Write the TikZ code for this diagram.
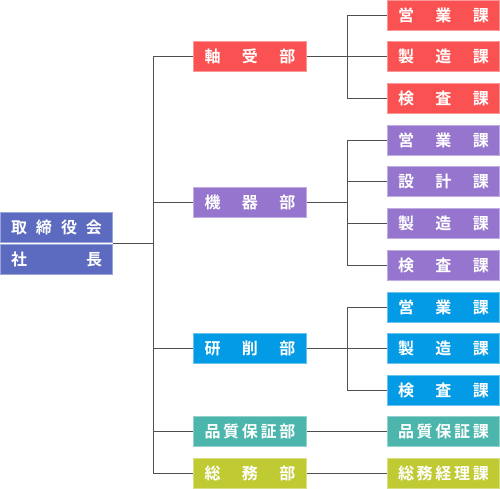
\documentclass[tikz,border=0pt]{standalone}
\usepackage{fontspec}
\newfontfamily\jp{Noto Sans CJK JP}[BoldFont={Noto Sans CJK JP Bold}]
\definecolor{cRed}{HTML}{FA5252}
\definecolor{cPur}{HTML}{9575CD}
\definecolor{cBlu}{HTML}{039BE5}
\definecolor{cTea}{HTML}{4DB6AC}
\definecolor{cLim}{HTML}{C0CA33}
\definecolor{cInd}{HTML}{5C6BC0}
\definecolor{lineC}{HTML}{505050}
\newcommand{\sprd}[1]{\makebox[91pt]{#1}}
\tikzset{
  box/.style={rectangle, inner sep=0pt, minimum width=112.5pt, minimum height=30pt,
    fill=#1, draw=#1!60!white, line width=0.8pt, text=white,
    font=\jp\bfseries\fontsize{16pt}{16pt}\selectfont},
  conn/.style={draw=lineC, line width=0.9pt}
}
\begin{document}
\begin{tikzpicture}[x=1pt,y=-1pt]
\useasboundingbox (0,0) rectangle (500,489);
% president
\node[box=cInd] (ceoA) at (56.5,227.5) {\sprd{取\hfill 締\hfill 役\hfill 会}};
\node[box=cInd] (ceoB) at (56.5,259.5) {\sprd{社\hfill 長}};
\coordinate (ceoR) at (113,243.5);
\coordinate (tr) at (153,0);
\coordinate (br) at (347,0);
% departments
\node[box=cRed] (d1) at (250,56.5) {\sprd{軸\hfill 受\hfill 部}};
\node[box=cPur] (d2) at (250,202.5) {\sprd{機\hfill 器\hfill 部}};
\node[box=cBlu] (d3) at (250,348) {\sprd{研\hfill 削\hfill 部}};
\node[box=cTea] (d4) at (250,431.5) {\sprd{品\hfill 質\hfill 保\hfill 証\hfill 部}};
\node[box=cLim] (d5) at (250,473.5) {\sprd{総\hfill 務\hfill 部}};
% sections
\node[box=cRed] (s11) at (443.5,15) {\sprd{営\hfill 業\hfill 課}};
\node[box=cRed] (s12) at (443.5,56.5) {\sprd{製\hfill 造\hfill 課}};
\node[box=cRed] (s13) at (443.5,98.5) {\sprd{検\hfill 査\hfill 課}};
\node[box=cPur] (s21) at (443.5,140) {\sprd{営\hfill 業\hfill 課}};
\node[box=cPur] (s22) at (443.5,181.5) {\sprd{設\hfill 計\hfill 課}};
\node[box=cPur] (s23) at (443.5,223.5) {\sprd{製\hfill 造\hfill 課}};
\node[box=cPur] (s24) at (443.5,265) {\sprd{検\hfill 査\hfill 課}};
\node[box=cBlu] (s31) at (443.5,307) {\sprd{営\hfill 業\hfill 課}};
\node[box=cBlu] (s32) at (443.5,348.5) {\sprd{製\hfill 造\hfill 課}};
\node[box=cBlu] (s33) at (443.5,390.5) {\sprd{検\hfill 査\hfill 課}};
\node[box=cTea] (s41) at (443.5,431.5) {\sprd{品\hfill 質\hfill 保\hfill 証\hfill 課}};
\node[box=cLim] (s51) at (443.5,473.5) {\sprd{総\hfill 務\hfill 経\hfill 理\hfill 課}};
% trunk
\draw[conn] (ceoR) -- (ceoR -| tr);
\draw[conn] (d1.west) -- (d1.west -| tr) -- (d5.west -| tr) -- (d5.west);
\draw[conn] (d2.west) -- (d2.west -| tr);
\draw[conn] (d3.west) -- (d3.west -| tr);
\draw[conn] (d4.west) -- (d4.west -| tr);
% group 1
\draw[conn] (d1.east) -- (s12.west);
\draw[conn] (s11.west) -- (s11.west -| br) -- (s13.west -| br) -- (s13.west);
% group 2
\draw[conn] (d2.east) -- (d2.east -| br);
\draw[conn] (s21.west) -- (s21.west -| br) -- (s24.west -| br) -- (s24.west);
\draw[conn] (s22.west) -- (s22.west -| br);
\draw[conn] (s23.west) -- (s23.west -| br);
% group 3
\draw[conn] (d3.east) -- (d3.east -| br);
\draw[conn] (s31.west) -- (s31.west -| br) -- (s33.west -| br) -- (s33.west);
\draw[conn] (s32.west) -- (s32.west -| br);
% direct
\draw[conn] (d4.east) -- (s41.west);
\draw[conn] (d5.east) -- (s51.west);
\end{tikzpicture}
\end{document}
